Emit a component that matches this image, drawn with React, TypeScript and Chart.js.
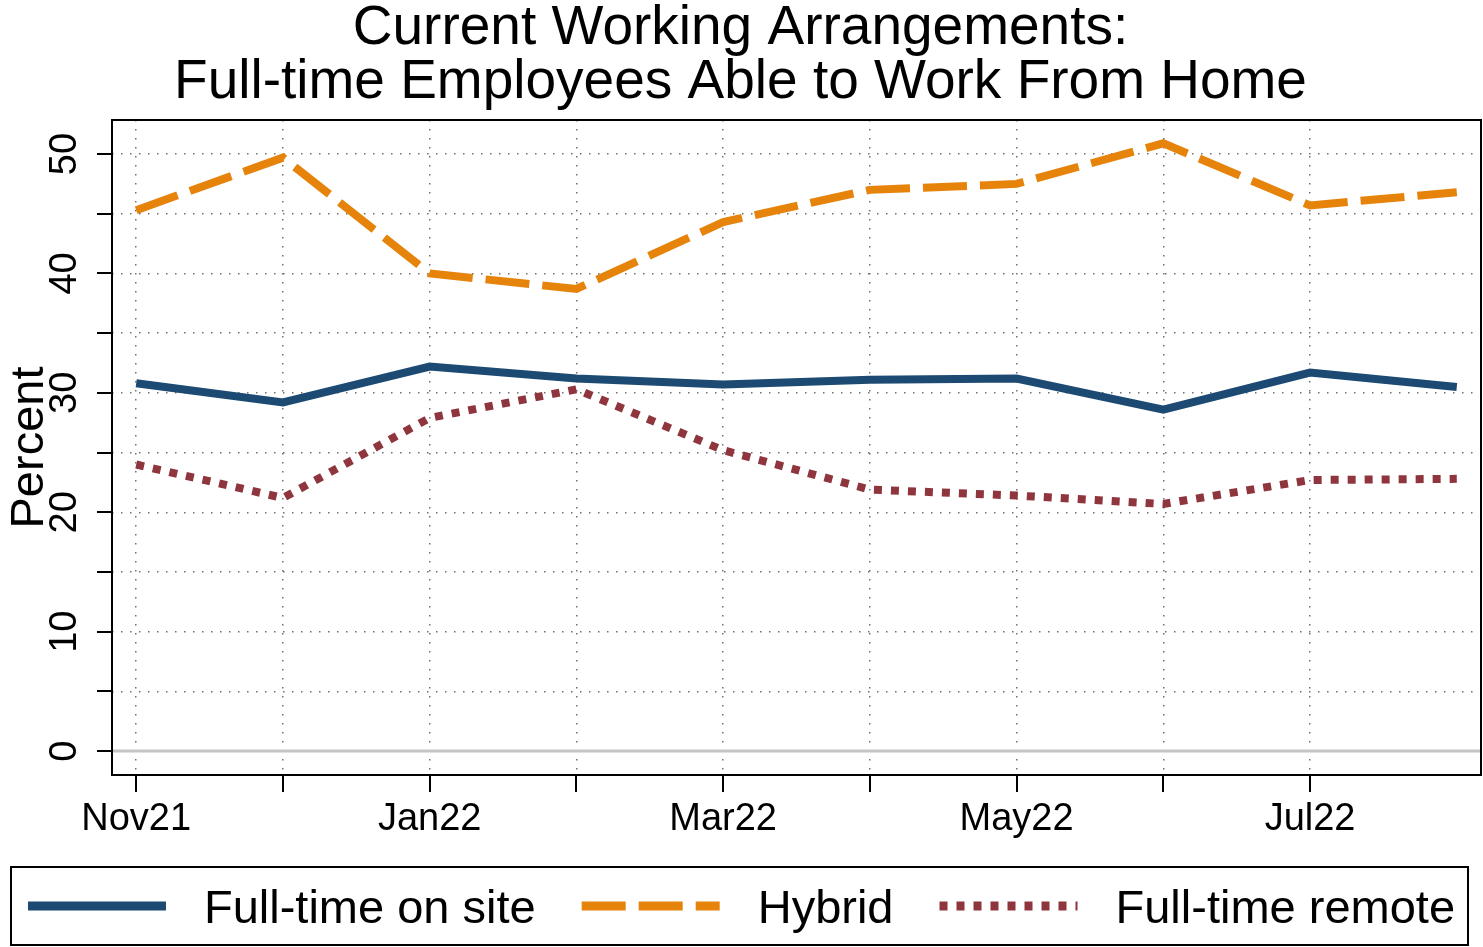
import React, { useEffect, useRef } from "react";
import { Chart, registerables } from "chart.js";

Chart.register(...registerables);

const months = ["Nov21", "Dec21", "Jan22", "Feb22", "Mar22", "Apr22", "May22", "Jun22", "Jul22", "Aug22"];
const onSite = [30.8, 29.2, 32.2, 31.2, 30.7, 31.1, 31.2, 28.6, 31.7, 30.5];
const hybrid = [45.3, 49.7, 40.0, 38.7, 44.3, 47.0, 47.5, 50.9, 45.7, 46.8];
const remote = [24.0, 21.2, 27.9, 30.3, 25.2, 21.9, 21.4, 20.7, 22.7, 22.8];
const xTickIndices = [0, 1, 2, 3, 4, 5, 6, 7, 8];
const yTickValues = [0, 5, 10, 15, 20, 25, 30, 35, 40, 45, 50];
const titleLines = ["Current Working Arrangements:", "Full-time Employees Able to Work From Home"];
const seriesNames = ["Full-time on site", "Hybrid", "Full-time remote"];
const yAxisTitle = "Percent";

const FONT = "'Liberation Sans', Arial, Helvetica, sans-serif";
const BLUE = "#1c4a72";
const ORANGE = "#e6830a";
const MAROON = "#8f353d";

const framePlugin = {
  id: "frameAndTicks",
  beforeDatasetsDraw(chart: any) {
    const { ctx, chartArea } = chart;
    const y = chart.scales.y;
    ctx.save();
    ctx.strokeStyle = "#c4c4c4";
    ctx.lineWidth = 3;
    const py = y.getPixelForValue(0);
    ctx.beginPath();
    ctx.moveTo(chartArea.left, py);
    ctx.lineTo(chartArea.right + 1, py);
    ctx.stroke();
    ctx.restore();
  },
  afterDatasetsDraw(chart: any) {
    const { ctx, chartArea } = chart;
    const x = chart.scales.x;
    const y = chart.scales.y;
    ctx.save();
    ctx.strokeStyle = "#000";
    ctx.lineWidth = 2;
    ctx.setLineDash([]);
    ctx.strokeRect(chartArea.left, chartArea.top, chartArea.right - chartArea.left, chartArea.bottom - chartArea.top);
    ctx.beginPath();
    y.ticks.forEach((t: any) => {
      const p = Math.round(y.getPixelForValue(t.value));
      ctx.moveTo(chartArea.left - 15, p);
      ctx.lineTo(chartArea.left, p);
    });
    x.ticks.forEach((t: any) => {
      const p = Math.round(x.getPixelForValue(t.value));
      ctx.moveTo(p, chartArea.bottom);
      ctx.lineTo(p, chartArea.bottom + 17);
    });
    ctx.stroke();
    ctx.restore();
  },
};

const legendPlugin = {
  id: "boxLegend",
  afterDraw(chart: any) {
    const { ctx } = chart;
    ctx.save();
    ctx.font = `47px ${FONT}`;
    const sample = 138;
    const gapText = 38;
    const gapItem = 46;
    const items = chart.data.datasets.map((ds: any) => ({
      label: ds.label,
      color: ds.borderColor,
      dash: ds.borderDash || [],
      w: ctx.measureText(ds.label).width,
    }));
    const total =
      items.reduce((s: number, it: any) => s + sample + gapText + it.w, 0) + gapItem * (items.length - 1);
    const boxL = 11;
    const boxR = chart.width - 15;
    const boxT = chart.height - 80;
    const boxB = chart.height - 2;
    ctx.strokeStyle = "#000";
    ctx.lineWidth = 2;
    ctx.strokeRect(boxL, boxT, boxR - boxL, boxB - boxT);
    const cy = (boxT + boxB) / 2;
    let cx = (boxL + boxR) / 2 - total / 2 + 2;
    items.forEach((it: any) => {
      ctx.beginPath();
      ctx.setLineDash(it.dash);
      ctx.lineCap = "butt";
      ctx.lineWidth = 9;
      ctx.strokeStyle = it.color;
      ctx.moveTo(cx, cy);
      ctx.lineTo(cx + sample, cy);
      ctx.stroke();
      ctx.setLineDash([]);
      ctx.fillStyle = "#000";
      ctx.textBaseline = "middle";
      ctx.textAlign = "left";
      ctx.fillText(it.label, cx + sample + gapText, cy + 4);
      cx += sample + gapText + it.w + gapItem;
    });
    ctx.restore();
  },
};

export default function App() {
  const canvasRef = useRef<HTMLCanvasElement | null>(null);

  useEffect(() => {
    if (!canvasRef.current) return;
    Chart.defaults.font.family = FONT;
    const mk = (vals: number[]) => vals.map((v, i) => ({ x: i, y: v }));
    const chart = new Chart(canvasRef.current, {
      type: "line",
      data: {
        datasets: [
          {
            label: seriesNames[0],
            data: mk(onSite),
            borderColor: BLUE,
            backgroundColor: BLUE,
            borderWidth: 8,
            pointRadius: 0,
            tension: 0,
            borderCapStyle: "butt",
          },
          {
            label: seriesNames[1],
            data: mk(hybrid),
            borderColor: ORANGE,
            backgroundColor: ORANGE,
            borderWidth: 8,
            borderDash: [44, 13],
            pointRadius: 0,
            tension: 0,
            borderCapStyle: "butt",
          },
          {
            label: seriesNames[2],
            data: mk(remote),
            borderColor: MAROON,
            backgroundColor: MAROON,
            borderWidth: 8,
            borderDash: [8, 9],
            pointRadius: 0,
            tension: 0,
            borderCapStyle: "butt",
          },
        ],
      },
      options: {
        responsive: false,
        animation: false,
        devicePixelRatio: 1,
        layout: { padding: { left: 0, right: 2, top: 0, bottom: 92 } },
        plugins: {
          legend: { display: false },
          tooltip: { enabled: false },
          title: {
            display: true,
            text: titleLines,
            color: "#000",
            font: { size: 55, weight: "normal", family: FONT, lineHeight: 54 / 55 },
            padding: { top: 2, bottom: 10 },
          },
        },
        scales: {
          x: {
            type: "linear",
            bounds: "data",
            min: -0.165,
            max: 9.165,
            afterBuildTicks: (scale: any) => {
              scale.ticks = xTickIndices.map((i) => ({ value: i }));
            },
            afterFit: (scale: any) => {
              scale.height = 80;
            },
            border: { display: false, dash: [1.5, 7.5] },
            grid: { color: "#707070", lineWidth: 1.5, drawTicks: false },
            ticks: {
              autoSkip: false,
              minRotation: 0,
              maxRotation: 0,
              padding: 22,
              color: "#000",
              font: { size: 38, family: FONT },
              callback: (v: any) => (Number(v) % 2 === 0 ? months[Number(v)] : ""),
            },
          },
          y: {
            type: "linear",
            bounds: "data",
            min: -2,
            max: 52.85,
            afterBuildTicks: (scale: any) => {
              scale.ticks = yTickValues.map((v) => ({ value: v }));
            },
            afterFit: (scale: any) => {
              scale.width = 112;
            },
            border: { display: false, dash: [1.5, 7.5] },
            grid: { color: "#707070", lineWidth: 1.5, drawTicks: false },
            title: {
              display: true,
              text: yAxisTitle,
              color: "#000",
              font: { size: 47, family: FONT },
              padding: { top: 2, bottom: 0 },
            },
            ticks: {
              autoSkip: false,
              minRotation: 90,
              maxRotation: 90,
              crossAlign: "center",
              padding: 25,
              color: "#000",
              font: { size: 38, family: FONT },
              callback: (v: any) => (Number(v) % 10 === 0 ? String(v) : ""),
            },
          },
        },
      },
      plugins: [framePlugin, legendPlugin],
    } as any);
    return () => chart.destroy();
  }, []);

  return (
    <div style={{ position: "fixed", left: 0, top: 0, width: 1483, height: 947, background: "#fff" }}>
      <canvas ref={canvasRef} width={1483} height={947} />
    </div>
  );
}
